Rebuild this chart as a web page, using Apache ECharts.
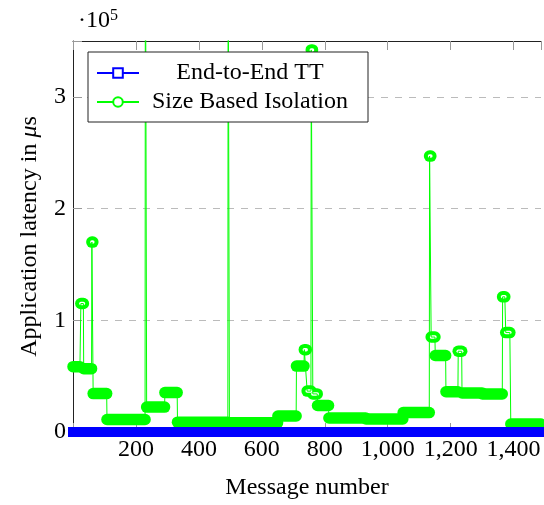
<!DOCTYPE html>
<html>
<head>
<meta charset="utf-8">
<script src="https://cdn.jsdelivr.net/npm/echarts@6/dist/echarts.min.js"></script>
<style>
html,body{margin:0;padding:0;background:#fff;}
#chart{width:544px;height:505px;}
</style>
</head>
<body>
<div id="chart"></div>
<script>
// ---- Data ----
// Size Based Isolation: runs of consecutive messages with ~constant latency (μs)
const runStart   = [0, 25, 34, 60, 64, 108, 230, 234, 292, 332, 493, 497, 651, 710, 735, 744, 757, 762, 777, 813, 931, 1049, 1133, 1138, 1151, 1185, 1224, 1236, 1301, 1365, 1375, 1391];
const runEnd     = [22, 33, 59, 63, 107, 229, 233, 291, 331, 492, 496, 650, 709, 734, 741, 756, 761, 776, 812, 930, 1048, 1132, 1137, 1150, 1184, 1223, 1235, 1300, 1364, 1372, 1388, 1487];
const runLatency = [58500, 115000, 56700, 170000, 34400, 11200, 500000, 22300, 35300, 8800, 450000, 8200, 14300, 59000, 73700, 36600, 342000, 34100, 23700, 12500, 11600, 17400, 247000, 85000, 68500, 36000, 72300, 35000, 34000, 121000, 89000, 7100];
// End-to-End TT
const e2eStart   = [0];
const e2eEnd     = [1487];
const e2eLatency = [0];

const seriesNames = ['End-to-End TT', 'Size Based Isolation'];
const yTicks = [0, 100000, 200000, 300000];
const xTicks = [200, 400, 600, 800, 1000, 1200, 1400];

const FONT = 'Liberation Serif';
const GREEN = '#00ff00';
const BLUE = '#0000ff';

// ---- Build series ----
const thinLine = [];
const markSeries = [];
for (let i = 0; i < runStart.length; i++) {
  const seg = [[runStart[i], runLatency[i]], [runEnd[i], runLatency[i]]];
  thinLine.push(seg[0], seg[1]);
  // overlapping circle marks form a thick rounded band
  markSeries.push({
    type: 'line', silent: true, z: 3, symbol: 'none', data: seg,
    lineStyle: { color: GREEN, width: 11.5, cap: 'round' }
  });
  // short runs show the hollow centre of the circle marks
  if (runEnd[i] - runStart[i] <= 16) {
    markSeries.push({
      type: 'line', silent: true, z: 4, symbol: 'none', data: seg,
      lineStyle: { color: '#fff', width: 3.5, cap: 'round' }
    });
  }
}
const blueSeries = [];
for (let i = 0; i < e2eStart.length; i++) {
  blueSeries.push({
    type: 'line', silent: true, z: 7, symbol: 'none',
    data: [[e2eStart[i], e2eLatency[i]], [e2eEnd[i], e2eLatency[i]]],
    lineStyle: { color: BLUE, width: 10, cap: 'square' }
  });
}

const chart = echarts.init(document.getElementById('chart'), null, { renderer: 'canvas' });
const xCommon = { type: 'value', min: 0, max: 1487, interval: 200 };
chart.setOption({
  animation: false,
  backgroundColor: '#fff',
  textStyle: { fontFamily: FONT },
  grid: { left: 73, top: 41, right: 0, bottom: 73, containLabel: false },
  xAxis: [
    Object.assign({}, xCommon, {
      position: 'bottom',
      name: 'Message number', nameLocation: 'middle', nameGap: 44,
      nameTextStyle: { fontFamily: FONT, fontSize: 24, color: '#000' },
      axisLine: { show: true, lineStyle: { color: '#222', width: 1 } },
      axisTick: { show: true, inside: true, length: 9, lineStyle: { color: '#999' } },
      axisLabel: {
        fontFamily: FONT, fontSize: 24, color: '#000', margin: 6,
        formatter: v => xTicks.indexOf(v) >= 0 ? v.toLocaleString('en-US') : ''
      },
      splitLine: { show: false }
    }),
    Object.assign({}, xCommon, {
      position: 'top',
      axisLine: { show: true, lineStyle: { color: '#222', width: 1 } },
      axisTick: { show: true, inside: true, length: 9, lineStyle: { color: '#999' } },
      axisLabel: { show: false },
      splitLine: { show: false }
    })
  ],
  yAxis: {
    type: 'value', min: 0, max: 350000, interval: 100000,
    name: 'Application latency in {i|μ}s', nameLocation: 'middle', nameRotate: 90, nameGap: 31,
    nameTextStyle: { fontFamily: FONT, fontSize: 24, color: '#000',
      rich: { i: { fontFamily: FONT, fontSize: 24, fontStyle: 'italic', color: '#000' } } },
    axisLine: { show: true, lineStyle: { color: '#222', width: 1 } },
    axisTick: { show: true, inside: true, length: 9, lineStyle: { color: '#999' } },
    axisLabel: {
      fontFamily: FONT, fontSize: 24, color: '#000', margin: 7,
      formatter: v => yTicks.indexOf(v) >= 0 ? String(v / 100000) : ''
    },
    splitLine: { show: true, lineStyle: { color: '#bbb', width: 1, type: [7, 7] } }
  },
  legend: {
    data: seriesNames,
    orient: 'vertical', left: 88, top: 52, z: 10,
    backgroundColor: '#fff', borderColor: '#222', borderWidth: 1, borderRadius: 0,
    padding: [9, 12, 8, 8], itemWidth: 42, itemHeight: 12, itemGap: 5,
    selectedMode: false,
    formatter: n => '{c|' + n + '}',
    textStyle: { fontFamily: FONT, fontSize: 24, color: '#000',
      rich: { c: { width: 212, align: 'center', fontFamily: FONT, fontSize: 24, lineHeight: 24, color: '#000' } } }
  },
  graphic: [{
    type: 'text', left: 78, top: 8, z: 10,
    style: {
      text: '·10{s|5}', fontFamily: FONT, fontSize: 24, fill: '#000',
      rich: { s: { fontFamily: FONT, fontSize: 16, verticalAlign: 'top', padding: [0, 0, 10, 0] } }
    }
  }],
  series: [
    { name: seriesNames[0], type: 'line', data: [], symbol: 'emptyRect', symbolSize: 10,
      itemStyle: { color: BLUE }, lineStyle: { color: BLUE, width: 1 } },
    { name: seriesNames[1], type: 'line', data: [], symbol: 'emptyCircle', symbolSize: 10,
      itemStyle: { color: GREEN }, lineStyle: { color: GREEN, width: 1 } },
    { type: 'line', silent: true, z: 5, symbol: 'none', data: thinLine,
      lineStyle: { color: GREEN, width: 1 } }
  ].concat(markSeries).concat(blueSeries)
});
</script>
</body>
</html>
